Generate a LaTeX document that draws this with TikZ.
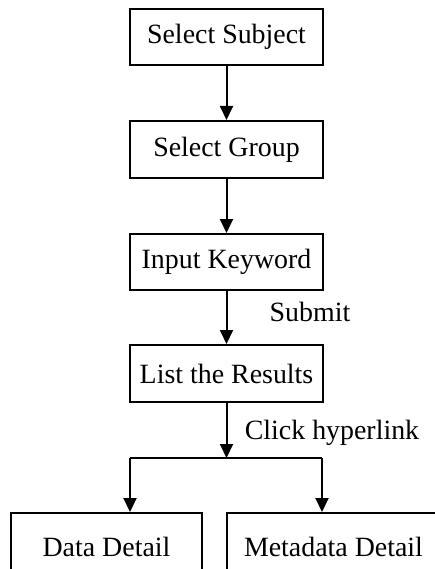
\documentclass[tikz,border=0pt]{standalone}
\usepackage{fontspec}
\setmainfont{Liberation Serif}
\usetikzlibrary{arrows.meta}
\begin{document}
\begin{tikzpicture}[x=1bp,y=-1bp,
  box/.style={draw, line width=2bp, minimum width=193bp, minimum height=56bp, inner sep=0pt, font=\fontsize{28}{33}\selectfont},
  lbl/.style={font=\fontsize{28}{33}\selectfont, inner sep=0pt},
  conn/.style={line width=2bp},
  arr/.style={conn, -{Triangle[length=14bp,width=13bp]}}]
\useasboundingbox (0,0) rectangle (435,569);
\node[box] (b1) at (226.5,37) {Select Subject};
\node[box, minimum height=57bp] (b2) at (226.5,149.5) {Select Group};
\node[box] (b3) at (226.5,262) {Input Keyword};
\node[box, minimum height=57bp] (b4) at (226.5,373.5) {List the Results};
\node[box, minimum width=191bp, minimum height=68bp] (b5) at (106.5,547) {Data Detail};
\node[box, minimum width=213bp, minimum height=68bp] (b6) at (333.5,547) {Metadata Detail};
\coordinate (split) at (226.5,458);
\coordinate (L) at (130,458);
\coordinate (R) at (322,458);
\draw[arr] (b1) -- (b2);
\draw[arr] (b2) -- (b3);
\draw[arr] (b3) -- (b4);
\draw[arr] (b4) -- (split);
\draw[conn] (L) -- (R);
\draw[arr] (L) -- (L |- b5.north);
\draw[arr] (R) -- (R |- b5.north);
\node[lbl] (sub) at (310,312) {Submit};
\node[lbl] (click) at (332,433) {Click hyperlink};
\end{tikzpicture}
\end{document}
